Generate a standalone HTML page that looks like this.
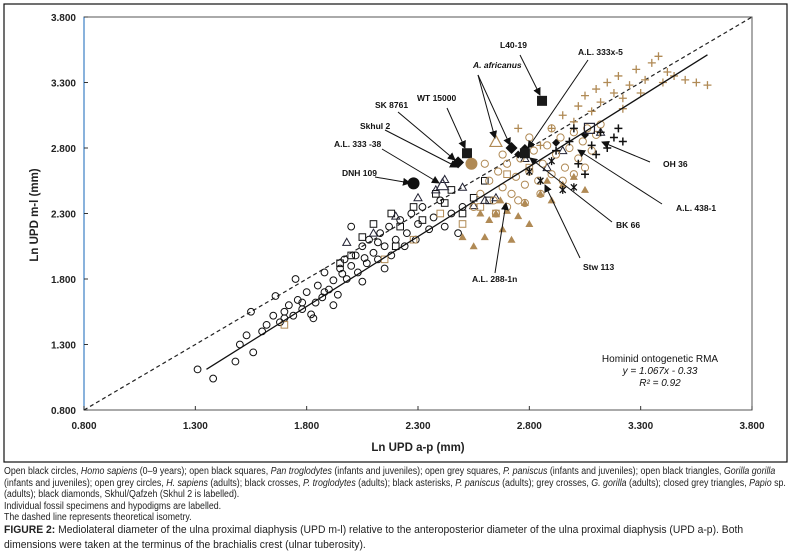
<!DOCTYPE html>
<html><head><meta charset="utf-8">
<style>
body{margin:0;background:#fff;}
#wrap{position:relative;width:791px;height:552px;overflow:hidden;font-family:"Liberation Sans",sans-serif;}
.cap{position:absolute;left:4px;font-size:9.8px;color:#222;line-height:11.5px;width:872px;transform:scaleX(0.9);transform-origin:0 0;}
</style></head><body>
<div id="wrap">
<svg id="chart" width="791" height="466" style="position:absolute;left:0;top:0"></svg>
<div class="cap" style="top:466px">Open black circles, <i>Homo sapiens</i> (0–9 years); open black squares, <i>Pan troglodytes</i> (infants and juveniles); open grey squares, <i>P. paniscus</i> (infants and juveniles); open black triangles, <i>Gorilla gorilla</i><br>(infants and juveniles); open grey circles, <i>H. sapiens</i> (adults); black crosses, <i>P. troglodytes</i> (adults); black asterisks, <i>P. paniscus</i> (adults); grey crosses, <i>G. gorilla</i> (adults); closed grey triangles, <i>Papio</i> sp.<br>(adults); black diamonds, Skhul/Qafzeh (Skhul 2 is labelled).<br>Individual fossil specimens and hypodigms are labelled.<br>The dashed line represents theoretical isometry.</div>
<div class="cap" style="top:523px;font-size:10.8px;line-height:15px;width:820px;transform:scaleX(0.96)"><b>FIGURE 2:</b> Mediolateral diameter of the ulna proximal diaphysis (UPD m-l) relative to the anteroposterior diameter of the ulna proximal diaphysis (UPD a-p). Both<br>dimensions were taken at the terminus of the brachialis crest (ulnar tuberosity).</div>
</div>
<script>
const xTicks=[0.8,1.3,1.8,2.3,2.8,3.3,3.8];
const yTicks=[0.8,1.3,1.8,2.3,2.8,3.3,3.8];
const hsJuv=[[1.31,1.11],[1.38,1.04],[1.48,1.17],[1.50,1.30],[1.53,1.37],[1.56,1.24],[1.60,1.40],[1.62,1.45],[1.65,1.52],[1.66,1.67],[1.68,1.47],[1.70,1.55],[1.72,1.60],[1.74,1.52],[1.76,1.64],[1.78,1.57],[1.80,1.70],[1.82,1.53],[1.84,1.62],[1.85,1.75],[1.87,1.66],[1.88,1.85],[1.90,1.72],[1.92,1.79],[1.94,1.68],[1.95,1.88],[1.97,1.95],[1.98,1.80],[2.00,1.90],[2.02,1.98],[2.03,1.85],[2.05,2.05],[2.07,1.92],[2.08,2.10],[2.10,2.00],[2.12,1.95],[2.13,2.15],[2.15,2.05],[2.17,2.20],[2.18,1.98],[2.20,2.10],[2.22,2.25],[2.24,2.05],[2.25,2.15],[2.27,2.30],[2.29,2.10],[2.30,2.22],[2.32,2.35],[2.35,2.18],[2.37,2.27],[2.40,2.40],[2.42,2.20],[2.45,2.30],[2.48,2.15],[2.50,2.35],[1.55,1.55],[1.75,1.80],[1.92,1.60],[2.00,2.20],[2.15,1.88],[1.83,1.50],[2.05,1.78],[1.70,1.50],[1.78,1.62],[1.88,1.70],[1.96,1.84],[2.06,1.96],[2.12,2.08]];
const panJuv=[[1.95,1.92],[2.05,2.12],[2.10,2.22],[2.18,2.30],[2.22,2.20],[2.28,2.35],[2.32,2.25],[2.38,2.45],[2.42,2.38],[2.45,2.48],[2.50,2.30],[2.55,2.42],[2.60,2.55],[2.62,2.40],[2.20,2.05],[2.00,1.98]];
const ppJuv=[[2.15,1.95],[2.28,2.10],[2.40,2.30],[2.50,2.22],[2.58,2.35],[2.65,2.30],[2.70,2.60],[2.80,2.65],[1.70,1.45]];
const gorJuv=[[1.98,2.08],[2.10,2.15],[2.20,2.28],[2.30,2.42],[2.38,2.48],[2.42,2.56],[2.50,2.50],[2.55,2.36],[2.60,2.40],[2.65,2.42],[2.88,2.65],[2.95,2.78],[3.12,2.92],[2.78,2.72]];
const hsAdult=[[2.55,2.35],[2.58,2.45],[2.62,2.55],[2.64,2.40],[2.66,2.62],[2.68,2.50],[2.70,2.68],[2.72,2.45],[2.74,2.58],[2.76,2.72],[2.78,2.52],[2.80,2.62],[2.82,2.78],[2.84,2.55],[2.86,2.68],[2.88,2.82],[2.90,2.60],[2.92,2.75],[2.94,2.88],[2.96,2.65],[2.98,2.80],[3.00,2.92],[3.02,2.72],[3.04,2.85],[3.06,2.95],[3.08,2.78],[3.10,2.90],[3.12,2.98],[2.70,2.35],[2.75,2.40],[2.85,2.45],[2.95,2.55],[3.00,2.60],[2.60,2.68],[2.68,2.75],[2.80,2.88],[2.90,2.95],[2.78,2.38],[2.65,2.30],[3.05,2.65]];
const panAdult=[[2.92,2.78],[2.98,2.85],[3.02,2.68],[3.05,2.60],[3.08,2.82],[3.10,2.75],[3.15,2.80],[3.18,2.88],[3.12,2.92],[3.20,2.95],[3.22,2.85],[3.00,2.95]];
const ppAdult=[[2.80,2.62],[2.85,2.55],[2.95,2.48],[3.00,2.50],[2.90,2.70]];
const gorAdult=[[2.85,2.82],[2.90,2.95],[2.95,3.05],[3.00,3.00],[3.02,3.12],[3.05,3.20],[3.08,3.08],[3.10,3.25],[3.12,3.15],[3.15,3.30],[3.18,3.22],[3.20,3.35],[3.22,3.18],[3.25,3.28],[3.28,3.40],[3.30,3.22],[3.32,3.32],[3.35,3.45],[3.38,3.50],[3.40,3.30],[3.42,3.38],[3.45,3.35],[3.50,3.32],[3.55,3.30],[3.60,3.28],[2.75,2.95],[3.22,3.10]];
const papio=[[2.55,2.05],[2.60,2.12],[2.62,2.25],[2.65,2.30],[2.68,2.18],[2.70,2.32],[2.72,2.10],[2.75,2.28],[2.78,2.38],[2.80,2.22],[2.85,2.45],[2.90,2.40],[2.95,2.52],[3.00,2.58],[3.05,2.48],[2.58,2.30],[2.67,2.40],[2.88,2.55],[2.50,2.12]];
const skhul=[[2.78,2.80],[2.92,2.84],[3.05,2.90],[2.75,2.75]];
const fossilNames=["L40-19","WT 15000","SK 8761","Skhul 2","A.L. 333-38","DNH 109","A.L. 333x-5","A. africanus","A. africanus","OH 36"];
const fossilVals=[[2.857,3.16],[2.52,2.76],[2.48,2.69],[2.54,2.68],[2.41,2.52],[2.28,2.53],[2.78,2.76],[2.65,2.85],[2.72,2.80],[3.07,2.95]];
const fossilShape=["fsq","fsq","dia","tcirc","otri","fcirc","fsq","otri","dia","osq"];
const rmaSlope=1.067, rmaInt=-0.33, rmaX=[1.35,3.6];

const svg=document.getElementById('chart'),NS='http://www.w3.org/2000/svg';
const X0=84,X1=752,Y0=410,Y1=17;
const sx=v=>X0+(v-0.8)/3*(X1-X0), sy=v=>Y0-(v-0.8)/3*(Y0-Y1);
function mk(t,a,p){const e=document.createElementNS(NS,t);for(const k in a)e.setAttribute(k,a[k]);(p||svg).appendChild(e);return e;}
const frame=mk('rect',{x:4,y:4,width:783,height:458,fill:'none',stroke:'#111','stroke-width':1.2});

const pa=mk('rect',{x:X0,y:Y1,width:X1-X0,height:Y0-Y1,fill:'none',stroke:'#555','stroke-width':1});

const ax=mk('line',{x1:X0,y1:Y1,x2:X0,y2:Y0,stroke:'#3b7fc4','stroke-width':1.2});

xTicks.forEach(t=>{const l=mk('line',{x1:sx(t),y1:Y0,x2:sx(t),y2:Y0-4,stroke:'#333'});
 const tx=mk('text',{x:sx(t),y:429,'text-anchor':'middle','font-size':10,'font-weight':'bold',fill:'#222'});tx.textContent=t.toFixed(3);});
yTicks.forEach(t=>{const l=mk('line',{x1:X0,y1:sy(t),x2:X0+4,y2:sy(t),stroke:'#333'});
 const tx=mk('text',{x:76,y:sy(t)+4,'text-anchor':'end','font-size':10,'font-weight':'bold',fill:'#222'});tx.textContent=t.toFixed(3);});
let t=mk('text',{x:418,y:451,'text-anchor':'middle','font-size':11.5,'font-weight':'bold',fill:'#222'});t.textContent='Ln UPD a-p (mm)';
t=mk('text',{x:38,y:215,'text-anchor':'middle','font-size':11.5,'font-weight':'bold',fill:'#222',transform:'rotate(-90 38 215)'});t.textContent='Ln UPD m-l (mm)';
const iso=mk('line',{x1:sx(0.8),y1:sy(0.8),x2:sx(3.8),y2:sy(3.8),stroke:'#222','stroke-width':1.2,'stroke-dasharray':'4,3'});

const tan='#b08a55',blk='#111';
function mark(shape,x,y,p){const c=sx(x),r=sy(y);let e;
 if(shape==='oc')e=mk('circle',{cx:c,cy:r,r:3.4,fill:'none',stroke:blk,'stroke-width':1},p);
 else if(shape==='gc')e=mk('circle',{cx:c,cy:r,r:3.6,fill:'none',stroke:tan,'stroke-width':1},p);
 else if(shape==='os')e=mk('rect',{x:c-3.3,y:r-3.3,width:6.6,height:6.6,fill:'none',stroke:blk,'stroke-width':1},p);
 else if(shape==='gs')e=mk('rect',{x:c-3.3,y:r-3.3,width:6.6,height:6.6,fill:'none',stroke:tan,'stroke-width':1},p);
 else if(shape==='ot')e=mk('path',{d:`M${c},${r-4}L${c+4},${r+3}L${c-4},${r+3}Z`,fill:'none',stroke:'#223',"stroke-width":1},p);
 else if(shape==='ft')e=mk('path',{d:`M${c},${r-4}L${c+4},${r+3}L${c-4},${r+3}Z`,fill:tan},p);
 else if(shape==='bx')e=mk('path',{d:`M${c-4},${r}H${c+4}M${c},${r-4}V${r+4}`,stroke:blk,'stroke-width':1.5},p);
 else if(shape==='gx')e=mk('path',{d:`M${c-4},${r}H${c+4}M${c},${r-4}V${r+4}`,stroke:tan,'stroke-width':1.3},p);
 else if(shape==='as')e=mk('path',{d:`M${c-3},${r-3}L${c+3},${r+3}M${c+3},${r-3}L${c-3},${r+3}M${c},${r-4}V${r+4}`,stroke:blk,'stroke-width':1.3},p);
 else if(shape==='dm')e=mk('path',{d:`M${c},${r-4}L${c+4},${r}L${c},${r+4}L${c-4},${r}Z`,fill:blk},p);
 return e;}
function series(name,arr,shape){const g=mk('g',{});
 arr.forEach(d=>{const e=mark(shape,d[0],d[1],g);});}
series('h-sapiens-juvenile',hsJuv,'oc');series('p-paniscus-juvenile',ppJuv,'gs');series('pan-juvenile',panJuv,'os');
series('gorilla-juvenile',gorJuv,'ot');series('h-sapiens-adult',hsAdult,'gc');series('papio-adult',papio,'ft');
series('gorilla-adult',gorAdult,'gx');series('pan-adult',panAdult,'bx');series('p-paniscus-adult',ppAdult,'as');series('skhul-qafzeh',skhul,'dm');
const rl=mk('line',{x1:sx(rmaX[0]),y1:sy(rmaSlope*rmaX[0]+rmaInt),x2:sx(rmaX[1]),y2:sy(rmaSlope*rmaX[1]+rmaInt),stroke:'#111','stroke-width':1.3});

fossilVals.forEach((d,i)=>{const c=sx(d[0]),r=sy(d[1]),s=fossilShape[i];let e;
 if(s==='fsq')e=mk('rect',{x:c-5,y:r-5,width:10,height:10,fill:'#1a1a1a'});
 else if(s==='dia')e=mk('path',{d:`M${c},${r-6}L${c+6},${r}L${c},${r+6}L${c-6},${r}Z`,fill:'#111'});
 else if(s==='tcirc')e=mk('circle',{cx:c,cy:r,r:6,fill:tan});
 else if(s==='fcirc')e=mk('circle',{cx:c,cy:r,r:6,fill:'#111'});
 else if(s==='otri')e=mk('path',{d:`M${c},${r-6}L${c+6},${r+5}L${c-6},${r+5}Z`,fill:'none',stroke:i>6?tan:'#334','stroke-width':1.2});
 else e=mk('rect',{x:c-5,y:r-5,width:10,height:10,fill:'none',stroke:'#223','stroke-width':1.2});
 });
const defs=mk('defs',{});const m=mk('marker',{id:'ah',markerWidth:8,markerHeight:8,refX:7,refY:4,orient:'auto'},defs);mk('path',{d:'M0,0L8,4L0,8Z',fill:'#111'},m);
const labels=[["L40-19",500,48,520,55,540,95,0],["A.L. 333x-5",578,55,588,60,528,148,0],["A. africanus",473,68,478,75,495,138,1],["",0,0,478,75,510,145,0],["WT 15000",417,101,447,108,465,148,0],["SK 8761",375,108,398,112,455,160,0],["Skhul 2",360,129,385,130,457,167,0],["A.L. 333 -38",334,147,382,149,439,183,0],["DNH 109",342,176,375,177,410,183,0],["OH 36",663,167,650,162,602,142,0],["A.L. 438-1",676,211,662,204,578,150,0],["BK 66",616,228,612,222,530,158,0],["Stw 113",583,270,580,258,545,185,0],["A.L. 288-1n",472,282,495,273,506,203,0]];
labels.forEach(a=>{const l=mk('line',{x1:a[3],y1:a[4],x2:a[5],y2:a[6],stroke:'#111','stroke-width':1,'marker-end':'url(#ah)'});
 if(a[0]){const tx=mk('text',{x:a[1],y:a[2],'font-size':8.5,'font-weight':'bold',fill:'#111','font-style':a[7]?'italic':'normal'});tx.textContent=a[0];}});
const box=[["Hominid ontogenetic RMA",362],["y = 1.067x - 0.33",374],["R² = 0.92",386]];
box.forEach((b,i)=>{const tx=mk('text',{x:660,y:b[1],'text-anchor':'middle','font-size':10,fill:'#111','font-style':i?'italic':'normal'});tx.textContent=b[0];});
</script>
</body></html>
